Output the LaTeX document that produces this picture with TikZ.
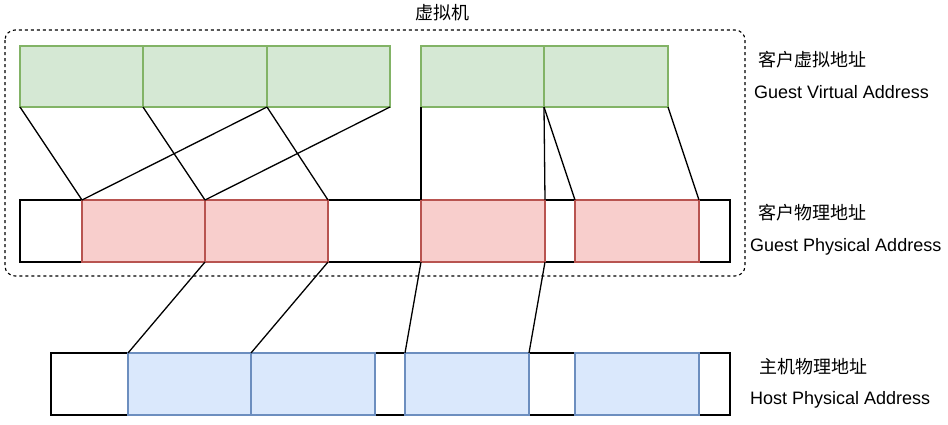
\documentclass[tikz,border=0pt]{standalone}
\usepackage{fontspec}
\setmainfont{Liberation Sans}
\newfontfamily\cjk{Noto Sans CJK SC}
\definecolor{gfill}{HTML}{D5E8D4}
\definecolor{gline}{HTML}{82B366}
\definecolor{rfill}{HTML}{F8CECC}
\definecolor{rline}{HTML}{B85450}
\definecolor{bfill}{HTML}{DAE8FC}
\definecolor{bline}{HTML}{6C8EBF}
\tikzset{
  cell/.style={rectangle, anchor=north west, inner sep=0pt, outer sep=0pt, line width=1.2pt},
  gcell/.style={cell, fill=gfill, draw=gline, minimum height=61pt},
  rcell/.style={cell, fill=rfill, draw=rline, minimum height=62pt},
  bcell/.style={cell, fill=bfill, draw=bline, minimum height=62pt},
  outerbox/.style={cell, draw=black, fill=white, minimum height=62pt, line width=1.3pt},
  link/.style={draw=black, line width=1.3pt},
  vmbox/.style={draw=black, line width=1.1pt, dash pattern=on 3pt off 3pt, rounded corners=10pt},
  lbl/.style={anchor=west, inner sep=0pt, font=\fontsize{18}{21}\selectfont},
  cjklbl/.style={anchor=west, inner sep=0pt, font=\fontsize{18}{21}\selectfont\cjk}
}
\begin{document}
\begin{tikzpicture}[x=1pt, y=-1pt]
\useasboundingbox[fill=white] (0,0) rectangle (948,424);
% VM dashed frame
\coordinate (vmA) at (5,30);
\coordinate (vmB) at (745,276);
\draw[vmbox] (vmA) rectangle (vmB);
\node[cjklbl, anchor=center] (vmlabel) at (442,13) {虚拟机};
% Guest virtual row
\node[gcell, minimum width=123pt] (g1) at (20,46) {};
\node[gcell, minimum width=124pt] (g2) at (143,46) {};
\node[gcell, minimum width=123pt] (g3) at (267,46) {};
\node[gcell, minimum width=123pt] (g4) at (421,46) {};
\node[gcell, minimum width=124pt] (g5) at (544,46) {};
% Guest physical row
\node[outerbox, minimum width=710pt] (gp) at (20,200) {};
\node[rcell, minimum width=123pt] (p1) at (82,200) {};
\node[rcell, minimum width=123pt] (p2) at (205,200) {};
\node[rcell, minimum width=124pt] (p3) at (421,200) {};
\node[rcell, minimum width=124pt] (p4) at (575,200) {};
% Host physical row
\node[outerbox, minimum width=679pt] (hp) at (51,353) {};
\node[bcell, minimum width=123pt] (b1) at (128,353) {};
\node[bcell, minimum width=124pt] (b2) at (251,353) {};
\node[bcell, minimum width=124pt] (b3) at (405,353) {};
\node[bcell, minimum width=124pt] (b4) at (575,353) {};
% GVA -> GPA
\draw[link] (g1.south west) -- (p1.north west);
\draw[link] (g2.south west) -- (p2.north west);
\draw[link] (g3.south west) -- (p1.north west);
\draw[link] (g3.south east) -- (p2.north west);
\draw[link] (g3.south west) -- (p2.north east);
\draw[link] (g4.south west) -- (p3.north west);
\draw[link] (g5.south west) -- (p3.north east);
\draw[link] (g5.south west) -- (p4.north west);
\draw[link] (g5.south east) -- (p4.north east);
% GPA -> HPA
\draw[link] (p2.south west) -- (b1.north west);
\draw[link] (p2.south east) -- (b2.north west);
\draw[link] (p3.south west) -- (b3.north west);
\draw[link] (p3.south east) -- (b3.north east);
% Labels
\node[cjklbl] (gvacn) at (758,60) {客户虚拟地址};
\node[lbl] (gvaen) at (754,92) {Guest Virtual Address};
\node[cjklbl] (gpacn) at (758,213) {客户物理地址};
\node[lbl] (gpaen) at (750,247) {Guest Physical Address};
\node[cjklbl] (hpacn) at (759,367) {主机物理地址};
\node[lbl] (hpaen) at (750,400) {Host Physical Address};
\end{tikzpicture}
\end{document}
